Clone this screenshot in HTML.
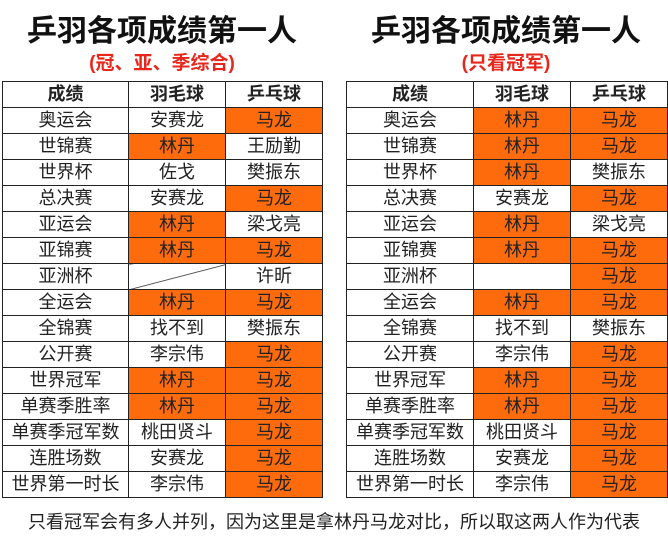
<!DOCTYPE html><html><head><meta charset="utf-8"><style>
body{margin:0;width:668px;height:539px;background:#fff;font-family:"Liberation Sans","Noto Sans CJK SC",sans-serif;position:relative;overflow:hidden}
.t{position:absolute;font-weight:bold;font-size:30px;color:#111;text-align:center;top:6px}
.s{position:absolute;font-weight:bold;font-size:19px;color:#e8261c;text-align:center;top:48px}
table{position:absolute;top:81px;border-collapse:collapse;table-layout:fixed}
td{border:1px solid #222;height:25px;padding:0;text-align:center;font-size:18px;color:#222;line-height:25px;white-space:nowrap}
tr:first-child td{font-weight:bold}
.o{background:#fd6b0d}
.f{position:absolute;top:508px;left:0;width:668px;text-align:center;font-size:18px;color:#222}
</style></head><body>
<div class="t" style="left:2px;width:320px">乒羽各项成绩第一人</div>
<div class="s" style="left:2px;width:320px">(冠、亚、季综合)</div>
<div class="t" style="left:346px;width:320px">乒羽各项成绩第一人</div>
<div class="s" style="left:346px;width:320px">(只看冠军)</div>
<table style="left:2px;width:320px"><colgroup><col style="width:126px"><col style="width:97px"><col style="width:97px"></colgroup>
<tr><td>成绩</td><td>羽毛球</td><td>乒乓球</td></tr>
<tr><td>奥运会</td><td>安赛龙</td><td class="o">马龙</td></tr>
<tr><td>世锦赛</td><td class="o">林丹</td><td>王励勤</td></tr>
<tr><td>世界杯</td><td>佐戈</td><td>樊振东</td></tr>
<tr><td>总决赛</td><td>安赛龙</td><td class="o">马龙</td></tr>
<tr><td>亚运会</td><td class="o">林丹</td><td>梁戈亮</td></tr>
<tr><td>亚锦赛</td><td class="o">林丹</td><td class="o">马龙</td></tr>
<tr><td>亚洲杯</td><td style="background:linear-gradient(to bottom right,transparent 49%,#222 50%,transparent 52%)"></td><td>许昕</td></tr>
<tr><td>全运会</td><td class="o">林丹</td><td class="o">马龙</td></tr>
<tr><td>全锦赛</td><td>找不到</td><td>樊振东</td></tr>
<tr><td>公开赛</td><td>李宗伟</td><td class="o">马龙</td></tr>
<tr><td>世界冠军</td><td class="o">林丹</td><td class="o">马龙</td></tr>
<tr><td>单赛季胜率</td><td class="o">林丹</td><td class="o">马龙</td></tr>
<tr><td>单赛季冠军数</td><td>桃田贤斗</td><td class="o">马龙</td></tr>
<tr><td>连胜场数</td><td>安赛龙</td><td class="o">马龙</td></tr>
<tr><td>世界第一时长</td><td>李宗伟</td><td class="o">马龙</td></tr>
</table>
<table style="left:346px;width:321px"><colgroup><col style="width:127px"><col style="width:97px"><col style="width:97px"></colgroup>
<tr><td>成绩</td><td>羽毛球</td><td>乒乓球</td></tr>
<tr><td>奥运会</td><td class="o">林丹</td><td class="o">马龙</td></tr>
<tr><td>世锦赛</td><td class="o">林丹</td><td class="o">马龙</td></tr>
<tr><td>世界杯</td><td class="o">林丹</td><td>樊振东</td></tr>
<tr><td>总决赛</td><td>安赛龙</td><td class="o">马龙</td></tr>
<tr><td>亚运会</td><td class="o">林丹</td><td>梁戈亮</td></tr>
<tr><td>亚锦赛</td><td class="o">林丹</td><td class="o">马龙</td></tr>
<tr><td>亚洲杯</td><td></td><td class="o">马龙</td></tr>
<tr><td>全运会</td><td class="o">林丹</td><td class="o">马龙</td></tr>
<tr><td>全锦赛</td><td>找不到</td><td>樊振东</td></tr>
<tr><td>公开赛</td><td>李宗伟</td><td class="o">马龙</td></tr>
<tr><td>世界冠军</td><td class="o">林丹</td><td class="o">马龙</td></tr>
<tr><td>单赛季胜率</td><td class="o">林丹</td><td class="o">马龙</td></tr>
<tr><td>单赛季冠军数</td><td>桃田贤斗</td><td class="o">马龙</td></tr>
<tr><td>连胜场数</td><td>安赛龙</td><td class="o">马龙</td></tr>
<tr><td>世界第一时长</td><td>李宗伟</td><td class="o">马龙</td></tr>
</table>
<div class="f">只看冠军会有多人并列，因为这里是拿林丹马龙对比，所以取这两人作为代表</div>
</body></html>
